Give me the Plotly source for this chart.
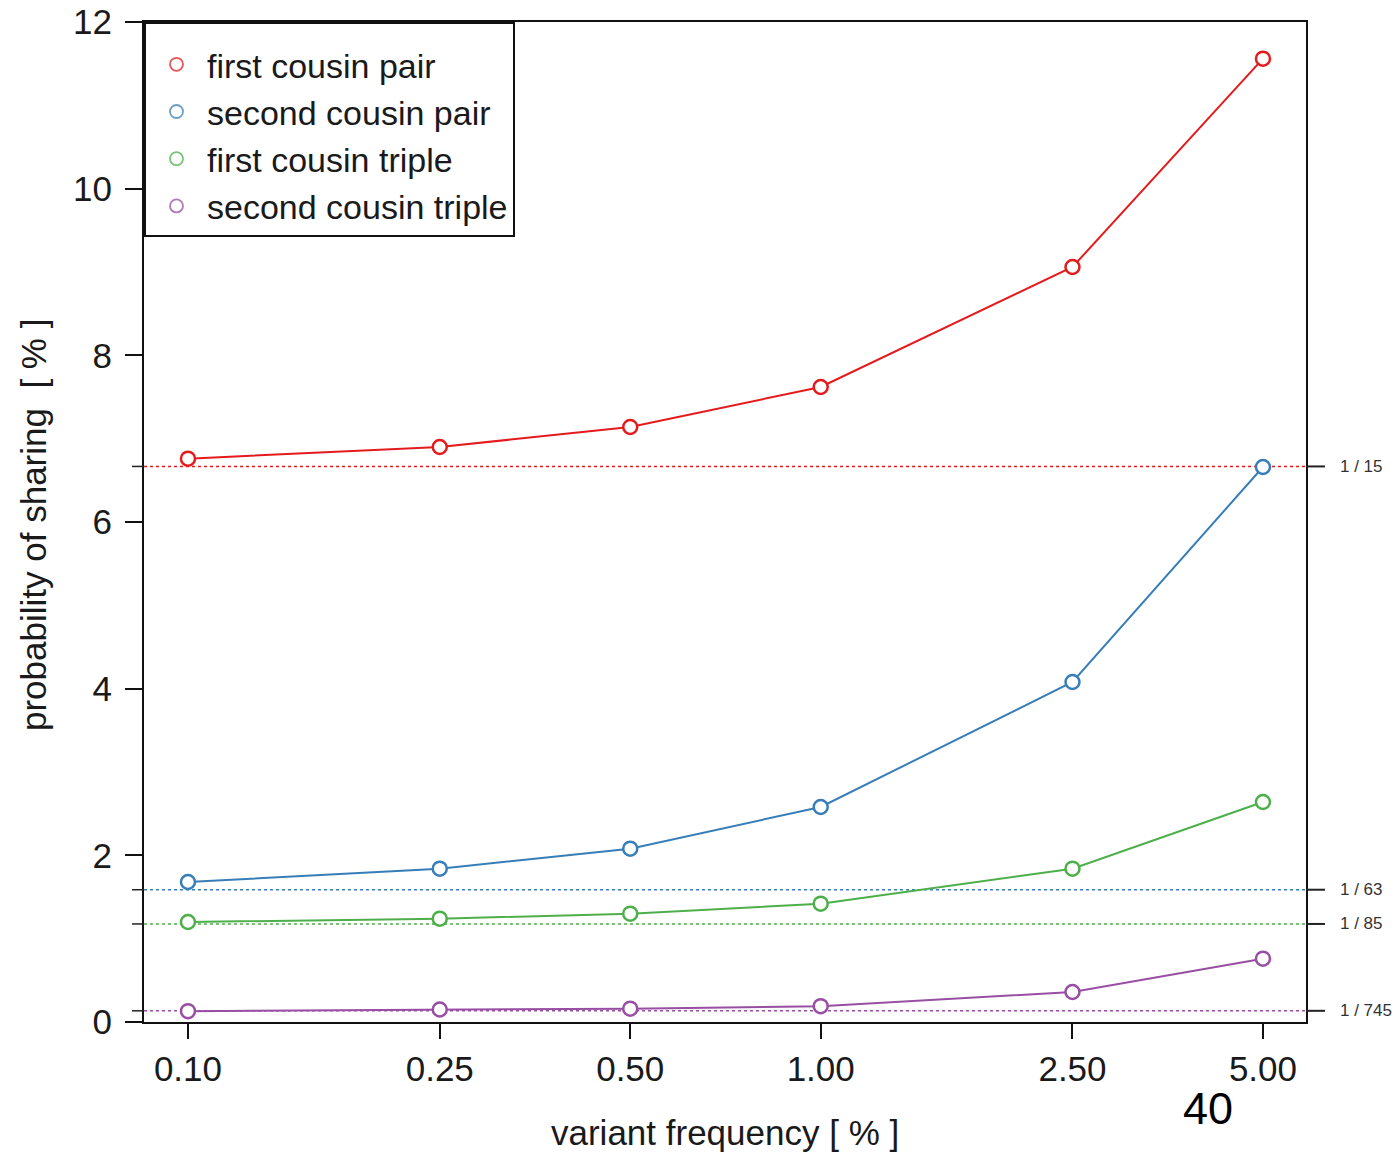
import plotly.graph_objects as go

freq = [0.10, 0.25, 0.50, 1.00, 2.50, 5.00]
freq_labels = ["0.10", "0.25", "0.50", "1.00", "2.50", "5.00"]

first_cousin_pair = [6.76, 6.90, 7.14, 7.62, 9.06, 11.56]
second_cousin_pair = [1.68, 1.84, 2.08, 2.58, 4.08, 6.66]
first_cousin_triple = [1.20, 1.24, 1.30, 1.42, 1.84, 2.64]
second_cousin_triple = [0.13, 0.15, 0.16, 0.19, 0.36, 0.76]

series_names = ["first cousin pair", "second cousin pair", "first cousin triple", "second cousin triple"]
series_values = [first_cousin_pair, second_cousin_pair, first_cousin_triple, second_cousin_triple]
colors = ["#E41A1C", "#377EB8", "#4DAF4A", "#984EA3"]

ref_denoms = [15, 63, 85, 745]
ref_labels = ["1 / 15", "1 / 63", "1 / 85", "1 / 745"]

FONT = "Liberation Sans, Arial, sans-serif"
W, H = 1395, 1153
L, R, T, B = 144, 89, 22, 131
pw, ph = W - L - R, H - T - B

fig = go.Figure()

shapes = []
annotations = []
for d, lab, c in zip(ref_denoms, ref_labels, colors):
    v = 100.0 / d
    shapes.append(dict(type="line", xref="paper", yref="y", x0=0, x1=1, y0=v, y1=v,
                       line=dict(color=c, width=1.6, dash="dot"), layer="below"))
    shapes.append(dict(type="line", xref="paper", yref="y", x0=1, x1=1 + 19 / pw, y0=v, y1=v,
                       line=dict(color="#222", width=2)))
    shapes.append(dict(type="line", xref="paper", yref="y", x0=-12 / pw, x1=0, y0=v, y1=v,
                       line=dict(color="#222", width=1.5)))
    annotations.append(dict(xref="paper", yref="y", x=1 + 32 / pw, y=v, text=lab, showarrow=False,
                            xanchor="left", yanchor="middle",
                            font=dict(family=FONT, size=17, color="#333")))

for name, vals, c in zip(series_names, series_values, colors):
    fig.add_trace(go.Scatter(x=freq, y=vals, mode="lines+markers", name=name, showlegend=False,
                             line=dict(color=c, width=2),
                             marker=dict(symbol="circle", size=14, color="white",
                                         line=dict(color=c, width=2.5))))

for name, c in zip(series_names, colors):
    fig.add_trace(go.Scatter(x=[None], y=[None], mode="markers", name=name, showlegend=True,
                             marker=dict(symbol="circle-open", size=13, color=c, opacity=0.75,
                                         line=dict(color=c, width=1.8))))

annotations.append(dict(xref="paper", yref="paper", x=(33 - L) / pw, y=(T + ph - 525) / ph,
                        xanchor="center", yanchor="middle",
                        text="probability of sharing  [ % ]", textangle=-90, showarrow=False,
                        font=dict(family=FONT, size=35, color="#1a1a1a")))
annotations.append(dict(xref="paper", yref="paper", x=(725 - L) / pw, y=(T + ph - 1132) / ph,
                        xanchor="center", yanchor="middle",
                        text="variant frequency [ % ]", showarrow=False,
                        font=dict(family=FONT, size=35, color="#1a1a1a")))
annotations.append(dict(xref="paper", yref="paper", x=(1208 - L) / pw, y=(T + ph - 1108) / ph,
                        xanchor="center", yanchor="middle",
                        text="40", showarrow=False,
                        font=dict(family=FONT, size=45, color="black")))

fig.update_layout(
    template="none",
    width=W, height=H,
    margin=dict(l=L, r=R, t=T, b=B, autoexpand=False),
    plot_bgcolor="white", paper_bgcolor="white",
    font=dict(family=FONT, color="#1a1a1a"),
    shapes=shapes, annotations=annotations,
    showlegend=True,
    legend=dict(x=0, y=1, xanchor="left", yanchor="top",
                bordercolor="#111", borderwidth=2, bgcolor="white",
                title=dict(text=" ", font=dict(family=FONT, size=9)),
                font=dict(family=FONT, size=34, color="#1a1a1a"),
                itemwidth=51, tracegroupgap=0, entrywidth=326, entrywidthmode="pixels"),
    xaxis=dict(type="log", range=[-1.0695, 0.767], tickvals=freq, ticktext=freq_labels,
               automargin=False,
               showgrid=False, zeroline=False, showline=True, mirror=True,
               linecolor="#111", linewidth=2, ticks="outside", ticklen=15, tickwidth=2,
               tickcolor="#111", tickfont=dict(family=FONT, size=35, color="#1a1a1a")),
    yaxis=dict(range=[0, 12], tickvals=[0, 2, 4, 6, 8, 10, 12], automargin=False,
               showgrid=False, zeroline=False, showline=True, mirror=True,
               linecolor="#111", linewidth=2, ticks="outside", ticklen=17, tickwidth=2,
               ticklabelstandoff=6,
               tickcolor="#111", tickfont=dict(family=FONT, size=35, color="#1a1a1a")),
)

fig.write_html("out.html")
